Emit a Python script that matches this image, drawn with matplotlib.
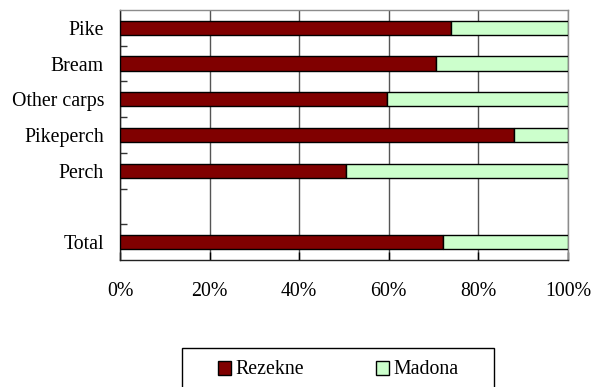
import matplotlib
matplotlib.use("Agg")
import matplotlib.pyplot as plt
from matplotlib.patches import Patch, Rectangle

categories = ["Pike", "Bream", "Other carps", "Pikeperch", "Perch", "", "Total"]
rezekne = [73.9, 70.5, 59.5, 88.0, 50.4, None, 72.0]
madona = [26.1, 29.5, 40.5, 12.0, 49.6, None, 28.0]
xticks = [0, 20, 40, 60, 80, 100]
xtick_labels = ["0%", "20%", "40%", "60%", "80%", "100%"]
series_names = ["Rezekne", "Madona"]
colors = ["#800000", "#CCFFCC"]

plt.rcParams["font.family"] = ["Liberation Serif", "DejaVu Serif"]
plt.rcParams["font.size"] = 14.3

W, H = 592, 387
fig = plt.figure(figsize=(W / 100, H / 100), dpi=100)
ax = fig.add_axes([120 / W, 1 - 260 / H, 448 / W, 250 / H])

pos = [i for i, v in enumerate(rezekne) if v is not None]
r = [rezekne[i] for i in pos]
m = [madona[i] for i in pos]
ax.barh(pos, r, height=0.4, color=colors[0], edgecolor="black", linewidth=1, zorder=3)
ax.barh(pos, m, left=r, height=0.4, color=colors[1], edgecolor="black", linewidth=1, zorder=3)

ax.set_xlim(0, 100)
ax.set_ylim(len(categories) - 0.5, -0.5)
ax.set_yticks(range(len(categories)))
ax.set_yticklabels(categories)
ax.set_yticks([i + 0.5 for i in range(len(categories) - 1)], minor=True)
ax.tick_params(axis="y", which="major", length=0, pad=11.5)
ax.tick_params(axis="y", which="minor", length=5, direction="in", width=1, color="#333333")
ax.set_xticks(xticks)
ax.set_xticklabels(xtick_labels)
ax.tick_params(axis="x", length=6, direction="in", width=1, pad=16)

ax.xaxis.grid(True, color="#555555", linewidth=1, zorder=0)
for side in ["top", "right"]:
    ax.spines[side].set_color("#8c8c8c")
for side in ["left", "bottom"]:
    ax.spines[side].set_color("#222222")
for s in ax.spines.values():
    s.set_linewidth(1)

# legend box (runs past the lower figure edge)
fig.patches.append(Rectangle((182 / W, 1 - 392 / H), 312 / W, 44 / H,
                             transform=fig.transFigure, fill=False,
                             edgecolor="black", linewidth=1))
handles = [Patch(facecolor=c, edgecolor="black", linewidth=1) for c in colors]
leg = fig.legend(handles, series_names, loc="center",
                 bbox_to_anchor=(338 / W, 1 - 370 / H),
                 ncol=2, frameon=False, handlelength=0.7, handleheight=0.7,
                 handletextpad=0.2, columnspacing=3.6, borderpad=0,
                 borderaxespad=0)

fig.savefig("out.png", dpi=100)
